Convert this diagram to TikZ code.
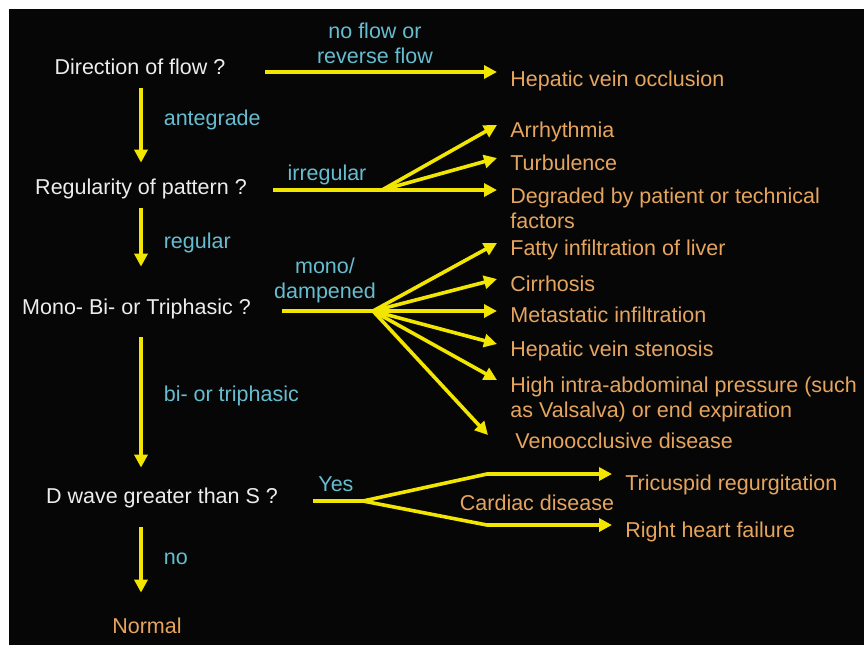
\documentclass[tikz,border=0pt]{standalone}
\usepackage{fontspec}
\setmainfont{Liberation Sans}
\usetikzlibrary{arrows.meta}
\usetikzlibrary{calc}
\definecolor{slidebg}{HTML}{060606}
\definecolor{question}{HTML}{EDEDED}
\definecolor{condition}{HTML}{66BDD0}
\definecolor{finding}{HTML}{E6A55E}
\definecolor{flowline}{HTML}{F2E600}

\begin{document}
\begin{tikzpicture}[
    x=0.5pt, y=-0.5pt,
    >={Triangle[length=6.5pt, width=6.5pt]},
    font=\fontsize{10.75}{12.3}\selectfont,
    qnode/.style={anchor=base, inner sep=0pt, text=question,
                  text height=8pt, text depth=2.3pt},
    fnode/.style={anchor=base west, inner xsep=6.5pt, inner ysep=0pt,
                  text=finding, align=left},
    cond/.style={inner sep=0pt, text=condition, align=center},
    condpath/.style={cond, text height=8pt, text depth=2.3pt},
    flow/.style={draw=flowline, line width=1.8pt},
    flowarrow/.style={flow, ->},
]

% slide area (pixel units, y downwards)
\useasboundingbox (0,0) rectangle (864,645);
\fill[white] (0,0) rectangle (864,645);
\fill[slidebg] (9,9) rectangle (864,645);

% ── Questions (left column) ──
\node[qnode] (dir)    at (140,74)  {Direction of flow ?};
\node[qnode] (reg)    at (141,194) {Regularity of pattern ?};
\node[qnode] (mono)   at (136.5,314) {Mono- Bi- or Triphasic ?};
\node[qnode] (dwave)  at (162,503) {D wave greater than S ?};
\node[qnode, text=finding] (normal) at (147,633) {Normal};

% ── Findings (right column); two-line nodes sit on their last line ──
\node[fnode] (hvo)   at (497,86)  {Hepatic vein occlusion};
\node[fnode] (arr)   at (497,137) {Arrhythmia};
\node[fnode] (turb)  at (497,170) {Turbulence};
\node[fnode] (deg)   at (497,228) {Degraded by patient or technical\\factors};
\node[fnode] (fatty) at (497,255) {Fatty infiltration of liver};
\node[fnode] (cirr)  at (497,291) {Cirrhosis};
\node[fnode] (meta)  at (497,322) {Metastatic infiltration};
\node[fnode] (hvs)   at (497,356) {Hepatic vein stenosis};
\node[fnode] (high)  at (497,417) {High intra-abdominal pressure (such\\as Valsalva) or end expiration};
\node[fnode] (veno)  at (502,448) {Venoocclusive disease};
\node[fnode] (tri)   at (612,490) {Tricuspid regurgitation};
\node[fnode] (rhf)   at (612,537) {Right heart failure};

% branch points
\coordinate (col)      at (141,0);
\coordinate (dir-out)  at (265,72);
\coordinate (reg-out)  at (273,190);
\coordinate (irr)      at (382,190);
\coordinate (mono-out) at (282,311);
\coordinate (damp)     at (373,311);
\coordinate (dw-out)   at (313,501);
\coordinate (yes)      at (363,501);
\coordinate (yes-up)   at (487,474);
\coordinate (yes-dn)   at (487,525);

% ── Main column arrows ──
\draw[flowarrow, shorten <=4.7pt, shorten >=7.5pt] (dir.south -| col) -- (reg.north -| col)
    node[pos=0.41, right=10.5pt, condpath] {antegrade};
\draw[flowarrow, shorten <=4.7pt, shorten >=15.5pt] (reg.south -| col) -- (mono.north -| col)
    node[pos=0.44, right=10.5pt, condpath] {regular};
\draw[flowarrow, shorten <=9.2pt, shorten >=9.5pt] (mono.south -| col) -- (dwave.north -| col)
    node[pos=0.46, right=10.5pt, condpath] {bi- or triphasic};
\draw[flowarrow, shorten <=9.7pt, shorten >=12pt] (dwave.south -| col) -- (normal.north -| col)
    node[pos=0.47, right=10.5pt, condpath] {no};

% ── Direction of flow ──
\draw[flowarrow] (dir-out) -- (dir-out -| hvo.west);
\node[cond, anchor=base] (noflow) at (375,63) {no flow or\\reverse flow};

% ── Regularity ──
\draw[flow] (reg-out) -- (irr);
\draw[flowarrow] (irr) -- (irr -| deg.west);
\foreach \t in {arr,turb}
    \draw[flowarrow] (irr) -- ([yshift=6pt]\t.base west);
\node[cond, anchor=base] (irr-lbl) at (327,180) {irregular};

% ── Waveform phasicity ──
\draw[flow] (mono-out) -- (damp);
\draw[flowarrow] (damp) -- (damp -| meta.west);
\foreach \t in {fatty,cirr,hvs}
    \draw[flowarrow] (damp) -- ([yshift=6pt]\t.base west);
\draw[flowarrow] (damp) -- ([yshift=18.5pt]high.base west);
\draw[flowarrow] (damp) -- ([xshift=-7pt, yshift=6.5pt]veno.base west);
\node[cond, anchor=base] (damp-lbl) at (325,298) {mono/\\dampened};

% ── D wave vs S wave ──
\draw[flowarrow] (dw-out) -- (yes) -- (yes-up) -- (yes-up -| tri.west);
\draw[flowarrow] (yes) -- (yes-dn) -- (yes-dn -| rhf.west);
\node[cond, anchor=base west] (yes-lbl) at (318,491) {Yes};
\node[inner sep=0pt, anchor=base, text=finding] (cardiac) at (537,510) {Cardiac disease};

\end{tikzpicture}
\end{document}
